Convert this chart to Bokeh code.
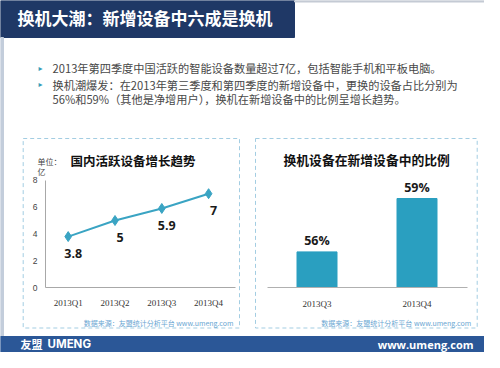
from bokeh.plotting import figure
from bokeh.models import Range1d, LinearAxis, FixedTicker
from bokeh.core.properties import value
from bokeh.embed import file_html
from bokeh.resources import INLINE

CJK = "Noto Sans CJK SC"

# ---- data ----
title_text = "换机大潮：新增设备中六成是换机"
bullet_lines = [
    "2013年第四季度中国活跃的智能设备数量超过7亿，包括智能手机和平板电脑。",
    "换机潮爆发：在2013年第三季度和第四季度的新增设备中，更换的设备占比分别为",
    "56%和59%（其他是净增用户），换机在新增设备中的比例呈增长趋势。",
]
line_title = "国内活跃设备增长趋势"
unit_text = ["单位：", "亿"]
line_quarters = ["2013Q1", "2013Q2", "2013Q3", "2013Q4"]
line_values = [3.8, 5.0, 5.9, 7.0]
line_labels = ["3.8", "5", "5.9", "7"]
y_ticks = [0, 2, 4, 6, 8]
y_axis_max = 8
bar_title = "换机设备在新增设备中的比例"
bar_quarters = ["2013Q3", "2013Q4"]
bar_values = [56, 59]
bar_labels = ["56%", "59%"]
bar_axis_min = 54
source_text = "数据来源：友盟统计分析平台 www.umeng.com"
footer_logo = ["友盟", "UMENG"]
footer_url = "www.umeng.com"

# ---- styling / layout constants (pixels) ----
W, H = 484, 352
LINE_C = "#3aa4c3"
BAR_C = "#2a9fc0"
DASH_C = "#a3cde2"
SRC_C = "#6aa6d2"
AXIS_C = "#a8a8a8"


def x_range_for(px0, px_per_unit):
    return Range1d((0 - px0) / px_per_unit, (W - px0) / px_per_unit)


def y_range_for(py0, base, px_per_unit):
    return Range1d(base + (py0 - H) / px_per_unit, base + py0 / px_per_unit)


p = figure(width=W, height=H, x_range=Range1d(0, W), y_range=Range1d(H, 0),
           x_axis_type=None, y_axis_type=None, toolbar_location=None,
           output_backend="svg", min_border=0, title=None)
p.outline_line_color = None
p.background_fill_color = "white"
p.border_fill_color = "white"

# chart coordinate systems
p.extra_x_ranges = {"lx": x_range_for(67.7, 46.8), "bx": x_range_for(316.5, 100.0)}
p.extra_y_ranges = {"ly": y_range_for(287.0, 0, 13.4), "by": y_range_for(287.0, bar_axis_min, 17.8)}

# ---- page decoration ----
p.quad(left=[0], right=[294], top=[0], bottom=[37], color="#1f3866")
p.quad(left=[294], right=[W], top=[0], bottom=[1.5], color="#c4cad4")
p.quad(left=[0], right=[3], top=[37], bottom=[336], color="#c3cddb")
p.text(x=[17], y=[17], text=[title_text], text_color="white", text_font=value(CJK),
       text_font_style="bold", text_font_size="17px", text_baseline="middle")
p.text(x=[40, 40], y=[68, 84.3], text=["▸", "▸"], text_color="#3a9fb8",
       text_font=value("DejaVu Sans"), text_font_size="8px", text_baseline="middle",
       text_align="center")
p.text(x=[52, 52, 52], y=[67.7, 84.3, 98.3], text=bullet_lines, text_color="#484848",
       text_font=value(CJK), text_font_size="11.2px", text_baseline="middle")

# dashed panels
p.quad(left=[22.7, 255], right=[239, 476.7], top=[138, 138], bottom=[327.5, 327.5],
       fill_alpha=0, line_color=DASH_C, line_width=1, line_dash="4 3")

# ---- line chart ----
line_x = list(range(len(line_quarters)))
p.line(line_x, line_values, color=LINE_C, line_width=2, x_range_name="lx", y_range_name="ly")
p.scatter(line_x, line_values, marker="diamond", size=10, color=LINE_C,
          x_range_name="lx", y_range_name="ly")
p.text(x=line_x, y=line_values, text=line_labels, x_offset=5, y_offset=17,
       text_align="center", text_baseline="middle", text_font=value("Open Sans"),
       text_font_style="bold", text_font_size="12.5px", text_color="#1a1a1a",
       x_range_name="lx", y_range_name="ly")

ly_axis = LinearAxis(x_range_name="lx", y_range_name="ly", fixed_location=-0.485,
                     bounds=(0, y_axis_max), ticker=FixedTicker(ticks=y_ticks, minor_ticks=[]))
lx_axis = LinearAxis(x_range_name="lx", y_range_name="ly", fixed_location=0,
                     bounds=(-0.485, 3.575),
                     ticker=FixedTicker(ticks=line_x, minor_ticks=[]),
                     major_label_overrides=dict(enumerate(line_quarters)))
for ax in (ly_axis, lx_axis):
    ax.axis_line_color = AXIS_C
    ax.major_tick_line_color = None
    ax.minor_tick_line_color = None
    ax.major_tick_out = 0
    ax.major_tick_in = 0
ly_axis.major_label_text_font = "Liberation Sans"
ly_axis.major_label_text_font_size = "8.5px"
ly_axis.major_label_text_color = "#444444"
ly_axis.major_label_standoff = 8
lx_axis.major_label_text_font = "Liberation Serif"
lx_axis.major_label_text_font_size = "9px"
lx_axis.major_label_text_color = "#333333"
lx_axis.major_label_standoff = 10
p.add_layout(ly_axis, "left")
p.add_layout(lx_axis, "below")

p.text(x=[70], y=[160], text=[line_title], text_font=value(CJK), text_font_style="bold",
       text_font_size="12.5px", text_color="#111111", text_baseline="middle")
p.text(x=[37, 37], y=[161, 171], text=unit_text, text_font=value(CJK),
       text_font_size="8px", text_color="#444444", text_baseline="middle")

# ---- bar chart ----
bar_x = list(range(len(bar_quarters)))
p.vbar(x=bar_x, top=bar_values, bottom=bar_axis_min, width=0.4, color=BAR_C,
       x_range_name="bx", y_range_name="by")
p.text(x=bar_x, y=bar_values, text=bar_labels, y_offset=-11,
       text_align="center", text_baseline="middle", text_font=value("Open Sans"),
       text_font_style="bold", text_font_size="12.5px", text_color="#1a1a1a",
       x_range_name="bx", y_range_name="by")
bx_axis = LinearAxis(x_range_name="bx", y_range_name="by", fixed_location=bar_axis_min,
                     bounds=(-0.5, 1.5),
                     ticker=FixedTicker(ticks=bar_x, minor_ticks=[]),
                     major_label_overrides=dict(enumerate(bar_quarters)))
bx_axis.axis_line_color = "#b0b0b0"
bx_axis.major_tick_line_color = None
bx_axis.minor_tick_line_color = None
bx_axis.major_tick_out = 0
bx_axis.major_tick_in = 0
bx_axis.major_label_text_font = "Liberation Serif"
bx_axis.major_label_text_font_size = "9px"
bx_axis.major_label_text_color = "#333333"
bx_axis.major_label_standoff = 11
p.add_layout(bx_axis, "below")

p.text(x=[283], y=[159], text=[bar_title], text_font=value(CJK), text_font_style="bold",
       text_font_size="12.8px", text_color="#111111", text_baseline="middle")

# source notes
p.text(x=[233, 470.7], y=[322.5, 322.5], text=[source_text, source_text],
       text_font=value(CJK), text_font_size="7px", text_color=SRC_C,
       text_baseline="middle", text_align="right")

# ---- footer ----
p.quad(left=[0], right=[W], top=[336], bottom=[H], color="#2b5797")
p.text(x=[20], y=[343.5], text=[footer_logo[0]], text_color="white", text_font=value(CJK),
       text_font_style="bold", text_font_size="11px", text_baseline="middle")
p.text(x=[47], y=[343.5], text=[footer_logo[1]], text_color="white", text_font=value("Inter"),
       text_font_style="bold", text_font_size="11.5px", text_baseline="middle")
p.text(x=[473], y=[343.5], text=[footer_url], text_color="white", text_font=value("Open Sans"),
       text_font_style="bold", text_font_size="11px", text_baseline="middle",
       text_align="right")

with open("out.html", "w") as f:
    f.write(file_html(p, INLINE))
